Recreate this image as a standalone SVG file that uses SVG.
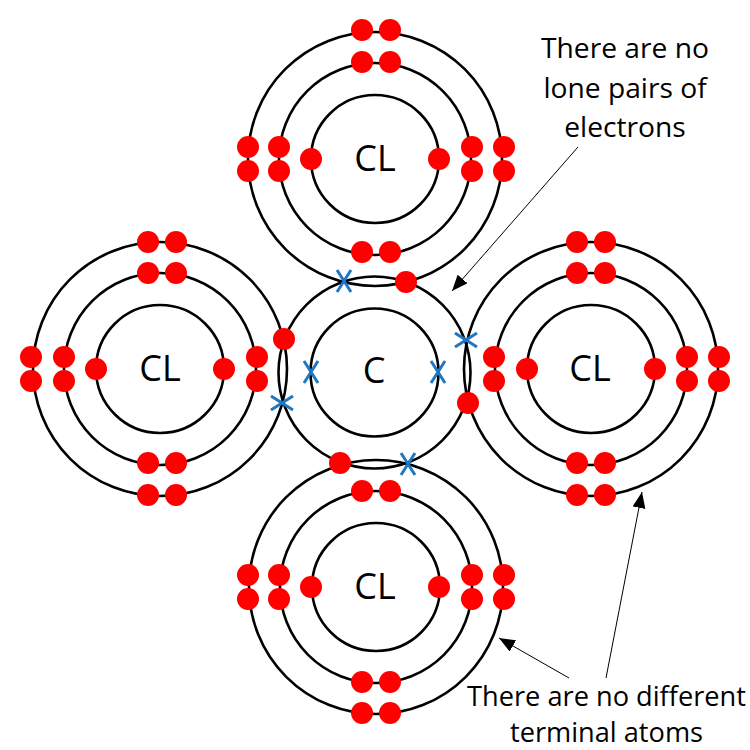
<svg xmlns="http://www.w3.org/2000/svg" width="750" height="750" viewBox="0 0 750 750">
<style>
.r{fill:none;stroke:#000;stroke-width:2.6}
.t{font-family:"Open Sans","Noto Sans",sans-serif;fill:#000;text-anchor:middle}
.a{font-size:36px}
.n{font-size:28.2px}
.m{font-size:27.2px}
.l{stroke:#000;stroke-width:1;fill:none;marker-end:url(#h)}
circle.e{fill:#f00}
.x{stroke:#1f78c1;stroke-width:3;fill:none}
</style>
<defs>
<marker id="h" markerUnits="userSpaceOnUse" markerWidth="18" markerHeight="14" refX="16" refY="6.5" orient="auto"><path d="M0 0L16 6.5L0 13Z" fill="#000"/></marker>
<g id="s"><circle class="r" r="64"/><circle class="r" r="96"/><circle class="r" r="127"/></g>
<path id="c" d="M-7-11L7 11M7-11L-7 11" class="x"/>
<circle id="d" class="e" r="11"/>
</defs>
<g id="connectors">
<path class="l" d="M578 147L452 291"/>
<path class="l" d="M569 678L499 638"/>
<path class="l" d="M606 678L642 492"/>
</g>
<g id="atom-top">
<use href="#s" x="375" y="159"/>
<use href="#d" x="362" y="30"/><use href="#d" x="390" y="30"/><use href="#d" x="362" y="62"/><use href="#d" x="390" y="62"/>
<use href="#d" x="248" y="147"/><use href="#d" x="248" y="171"/><use href="#d" x="279" y="147"/><use href="#d" x="279" y="171"/><use href="#d" x="311" y="159"/>
<use href="#d" x="439" y="159"/><use href="#d" x="472" y="147"/><use href="#d" x="472" y="171"/><use href="#d" x="504" y="147"/><use href="#d" x="504" y="171"/>
<use href="#d" x="362" y="252"/><use href="#d" x="390" y="252"/>
<text class="t a" x="375" y="171">CL</text>
</g>
<g id="atom-left">
<use href="#s" x="160" y="369"/>
<use href="#d" x="148" y="242"/><use href="#d" x="176" y="242"/><use href="#d" x="148" y="273"/><use href="#d" x="176" y="273"/>
<use href="#d" x="31" y="357"/><use href="#d" x="31" y="381"/><use href="#d" x="64" y="357"/><use href="#d" x="64" y="381"/><use href="#d" x="96" y="369"/>
<use href="#d" x="224" y="369"/><use href="#d" x="257" y="357"/><use href="#d" x="257" y="381"/>
<use href="#d" x="148" y="463"/><use href="#d" x="176" y="463"/><use href="#d" x="148" y="495"/><use href="#d" x="176" y="495"/>
<text class="t a" x="160" y="381">CL</text>
</g>
<g id="atom-right">
<use href="#s" x="591" y="369"/>
<use href="#d" x="577" y="242"/><use href="#d" x="605" y="242"/><use href="#d" x="577" y="273"/><use href="#d" x="605" y="273"/>
<use href="#d" x="494" y="357"/><use href="#d" x="494" y="381"/><use href="#d" x="527" y="369"/>
<use href="#d" x="655" y="369"/><use href="#d" x="687" y="357"/><use href="#d" x="687" y="381"/><use href="#d" x="719" y="357"/><use href="#d" x="719" y="381"/>
<use href="#d" x="577" y="463"/><use href="#d" x="605" y="463"/><use href="#d" x="577" y="495"/><use href="#d" x="605" y="495"/>
<text class="t a" x="590" y="381">CL</text>
</g>
<g id="atom-bottom">
<use href="#s" x="376" y="587"/>
<use href="#d" x="362" y="491"/><use href="#d" x="390" y="491"/>
<use href="#d" x="248" y="575"/><use href="#d" x="248" y="599"/><use href="#d" x="279" y="575"/><use href="#d" x="279" y="599"/><use href="#d" x="311" y="587"/>
<use href="#d" x="439" y="587"/><use href="#d" x="472" y="575"/><use href="#d" x="472" y="599"/><use href="#d" x="504" y="575"/><use href="#d" x="504" y="599"/>
<use href="#d" x="362" y="682"/><use href="#d" x="390" y="682"/><use href="#d" x="362" y="713"/><use href="#d" x="390" y="713"/>
<text class="t a" x="375" y="599">CL</text>
</g>
<g id="atom-center">
<circle class="r" cx="374.5" cy="372.5" r="64"/><circle class="r" cx="374.5" cy="372.5" r="96"/>
<use href="#d" x="406" y="282"/><use href="#d" x="284" y="339"/><use href="#d" x="468" y="403"/><use href="#d" x="340" y="463"/>
<use href="#c" x="344" y="281"/><use href="#c" x="311" y="372"/><use href="#c" x="438" y="372"/><use href="#c" x="408" y="464"/>
<use href="#c" transform="translate(282 403) rotate(90)"/><use href="#c" transform="translate(466 340) rotate(90)"/>
<text class="t a" x="374" y="383">C</text>
</g>
<g id="note-top">
<text class="t n" x="625" y="58">There are no</text>
<text class="t n" x="625" y="98">lone pairs of</text>
<text class="t n" x="625" y="137">electrons</text>
</g>
<g id="note-bottom">
<text class="t m" x="606.5" y="706">There are no different</text>
<text class="t m" x="606.5" y="742">terminal atoms</text>
</g>
</svg>
